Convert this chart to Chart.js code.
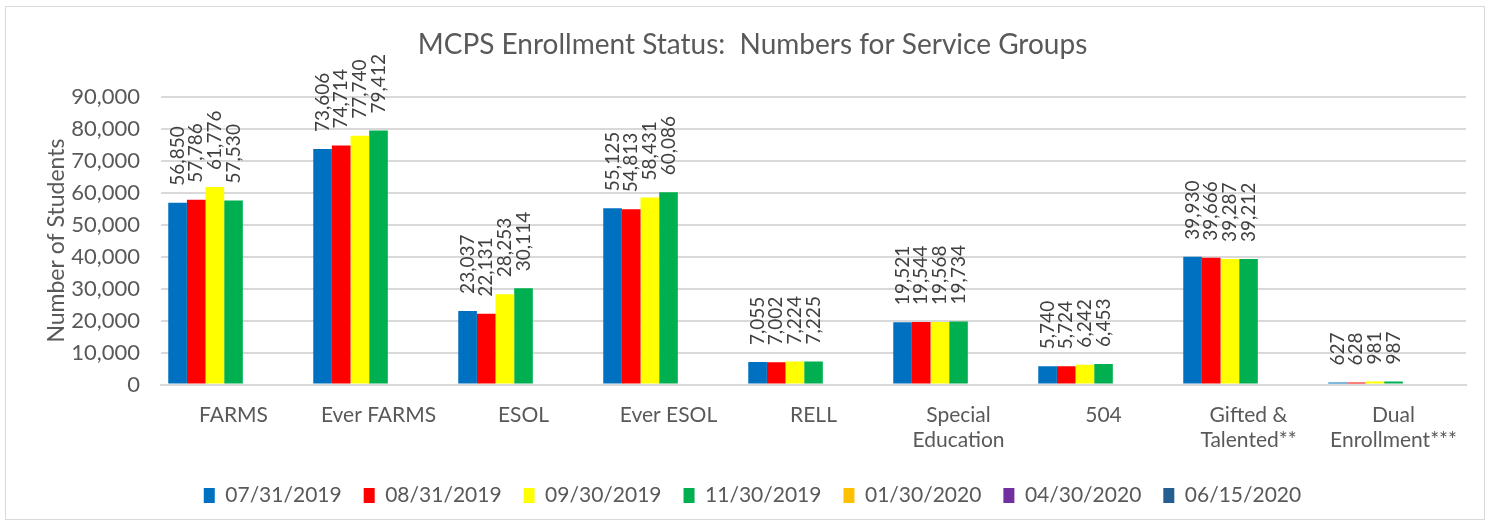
<!DOCTYPE html>
<html>
<head>
<meta charset="utf-8">
<script src="https://cdn.jsdelivr.net/npm/chart.js@4.4.1/dist/chart.umd.min.js"></script>
<style>
  body { margin: 0; background: #fff; }
  #wrap { position: absolute; left: 5px; top: 6px; width: 1480px; height: 514px; border: 1px solid #d9d9d9; box-sizing: border-box; }
  canvas { display: block; }
</style>
</head>
<body>
<div id="wrap"><canvas id="enrollChart"></canvas></div>
<script>
const categories = ["FARMS", "Ever FARMS", "ESOL", "Ever ESOL", "RELL", ["Special", "Education"], "504", ["Gifted &", "Talented**"], ["Dual", "Enrollment***"]];
const dates = ["07/31/2019", "08/31/2019", "09/30/2019", "11/30/2019", "01/30/2020", "04/30/2020", "06/15/2020"];
const jul2019 = [56850, 73606, 23037, 55125, 7055, 19521, 5740, 39930, 627];
const aug2019 = [57786, 74714, 22131, 54813, 7002, 19544, 5724, 39666, 628];
const sep2019 = [61776, 77740, 28253, 58431, 7224, 19568, 6242, 39287, 981];
const nov2019 = [57530, 79412, 30114, 60086, 7225, 19734, 6453, 39212, 987];
const jan2020 = [];
const apr2020 = [];
const jun2020 = [];
const colors = ["#0070C0", "#FF0000", "#FFFF00", "#00B050", "#FFC000", "#7030A0", "#255E91"];

const seriesValues = [jul2019, aug2019, sep2019, nov2019, jan2020, apr2020, jun2020];
const textColor = "#595959";
const fontFamily = "Lato, 'Open Sans', sans-serif";

// little plugin for the rotated value labels above the bars
const valueLabels = {
    id: "valueLabels",
    afterDatasetsDraw(chart) {
        const ctx = chart.ctx;
        ctx.save();
        ctx.font = "19px " + fontFamily;
        ctx.fillStyle = "#404040";
        ctx.textAlign = "left";
        ctx.textBaseline = "middle";
        chart.data.datasets.forEach(function(ds, i) {
            const meta = chart.getDatasetMeta(i);
            meta.data.forEach(function(bar, j) {
                const v = ds.data[j];
                if (v == null) return;
                ctx.save();
                ctx.translate(bar.x, bar.y - 17);
                ctx.rotate(-Math.PI / 2);
                ctx.fillText(v.toLocaleString("en-US"), 0, 0);
                ctx.restore();
            });
        });
        ctx.restore();
    }
};

const datasets = [];
for (let i = 0; i < dates.length; i++) {
    datasets.push({
        label: dates[i],
        data: seriesValues[i],
        backgroundColor: colors[i],
        borderWidth: 0
    });
}

const canvas = document.getElementById("enrollChart");
canvas.width = 1478;
canvas.height = 512;

new Chart(canvas.getContext("2d"), {
    type: "bar",
    data: { labels: categories, datasets: datasets },
    plugins: [valueLabels],
    options: {
        responsive: false,
        animation: false,
        devicePixelRatio: 1,
        layout: { padding: { left: 33, right: 18, top: 10, bottom: 3 } },
        datasets: { bar: { categoryPercentage: 0.9, barPercentage: 1 } },
        plugins: {
            title: {
                display: true,
                text: "MCPS Enrollment Status:  Numbers for Service Groups",
                color: textColor,
                font: { size: 28, family: fontFamily, weight: "normal" },
                padding: { top: 11, bottom: 35 }
            },
            legend: {
                position: "bottom",
                labels: {
                    color: textColor,
                    font: { size: 21, family: fontFamily },
                    boxWidth: 11,
                    boxHeight: 15,
                    padding: 22
                }
            },
            tooltip: { enabled: false }
        },
        scales: {
            x: {
                grid: { display: false },
                border: { color: "#d9d9d9", width: 2 },
                ticks: { color: textColor, font: { size: 21, family: fontFamily }, maxRotation: 0, padding: 10 }
            },
            y: {
                min: 0,
                max: 90000,
                afterFit: function(scale) { scale.width = 122; },
                ticks: {
                    stepSize: 10000,
                    color: textColor,
                    font: { size: 22, family: fontFamily },
                    padding: 21,
                    callback: function(v) { return v.toLocaleString("en-US"); }
                },
                grid: { color: "#d9d9d9", lineWidth: 2, drawTicks: false },
                border: { display: false },
                title: {
                    display: true,
                    text: "Number of Students",
                    color: textColor,
                    font: { size: 23, family: fontFamily }
                }
            }
        }
    }
});
</script>
</body>
</html>
